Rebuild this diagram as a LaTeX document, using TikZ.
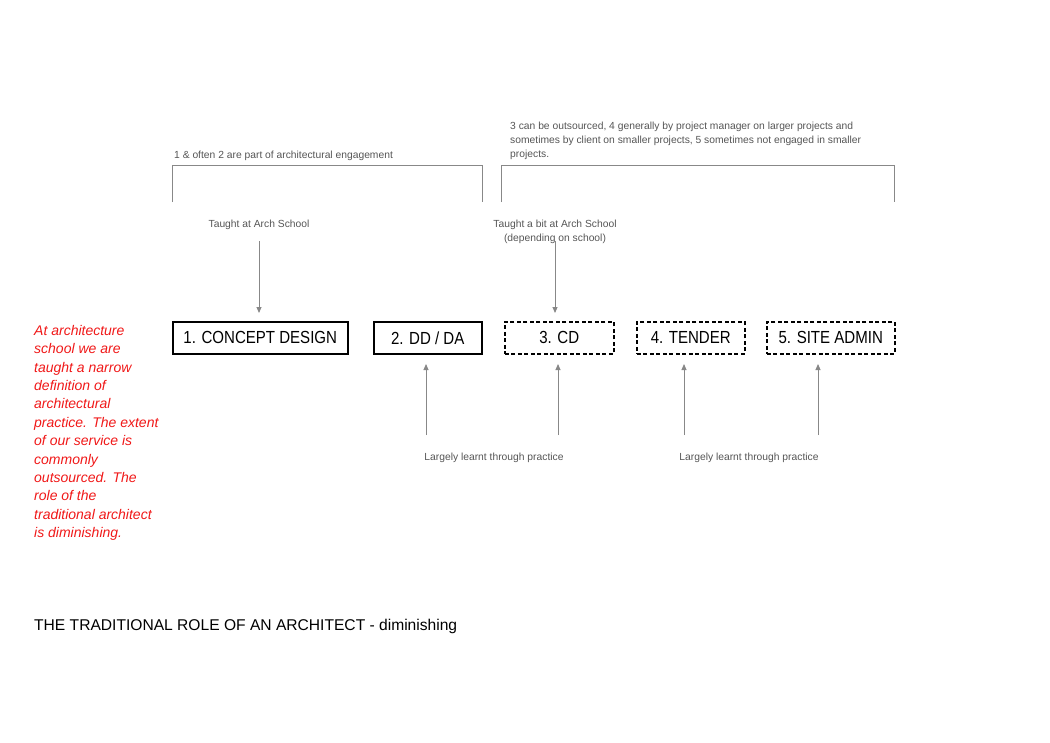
\documentclass[tikz,border=0pt]{standalone}
\usepackage{fontspec}
\setmainfont{Liberation Sans}
\newfontfamily\narrowfont{Liberation Sans}[FakeStretch=0.86]
\usetikzlibrary{arrows.meta}
\definecolor{txtgray}{HTML}{555555}
\definecolor{arrgray}{HTML}{888888}
\definecolor{redtxt}{HTML}{F01818}
\tikzset{
  stage/.style={draw=black, line width=1.5pt, minimum height=32pt, inner sep=0pt, font=\narrowfont\fontsize{17.5}{20}\selectfont, anchor=north west},
  stagedash/.style={stage, dashed, dash pattern=on 4pt off 2.5pt},
  note/.style={font=\fontsize{10.3}{14}\selectfont, text=txtgray, inner sep=0pt},
  brk/.style={draw=arrgray, line width=0.9pt},
  arr/.style={draw=arrgray, line width=0.9pt, -{Triangle[length=6pt,width=5pt]}}
}
\begin{document}
\begin{tikzpicture}[x=1pt,y=-1pt]
\useasboundingbox (0,0) rectangle (1050,742);
% brackets
\coordinate (b1a) at (172,202); \coordinate (b1b) at (172,165);
\coordinate (b1c) at (482,165); \coordinate (b1d) at (482,202);
\draw[brk] (b1a) -- (b1b) -- (b1c) -- (b1d);
\coordinate (b2a) at (501,202); \coordinate (b2b) at (501,165);
\coordinate (b2c) at (894,165); \coordinate (b2d) at (894,202);
\draw[brk] (b2a) -- (b2b) -- (b2c) -- (b2d);
% bracket notes
\node[note, anchor=west] (n1) at (174,155.5) {1 \& often 2 are part of architectural engagement};
\node[note, anchor=north west, align=left] (n2) at (510,122) {3 can be outsourced, 4 generally by project manager on larger projects and\\sometimes by client on smaller projects, 5 sometimes not engaged in smaller\\projects.};
% stages
\node[stage, minimum width=175pt] (s1) at (172,321) {1. CONCEPT DESIGN};
\node[stage, minimum width=108pt] (s2) at (373,321) {2. DD / DA};
\node[stagedash, minimum width=109pt] (s3) at (504,321) {3. CD};
\node[stagedash, minimum width=108pt] (s4) at (636,321) {4. TENDER};
\node[stagedash, minimum width=128pt] (s5) at (766,321) {5. SITE ADMIN};
% taught notes
\node[note] (t1) at (259,224.5) {Taught at Arch School};
\node[note, align=center] (t2) at (555,231.5) {Taught a bit at Arch School\\(depending on school)};
\coordinate (a1s) at (259,241); \coordinate (a1e) at (259,313);
\coordinate (a2s) at (555,241); \coordinate (a2e) at (555,313);
\draw[arr] (a1s) -- (a1e);
\draw[arr] (a2s) -- (a2e);
% practice arrows
\coordinate (p2s) at (426,435); \coordinate (p2e) at (426,364);
\coordinate (p3s) at (558,435); \coordinate (p3e) at (558,364);
\coordinate (p4s) at (684,435); \coordinate (p4e) at (684,364);
\coordinate (p5s) at (818,435); \coordinate (p5e) at (818,364);
\draw[arr] (p2s) -- (p2e);
\draw[arr] (p3s) -- (p3e);
\draw[arr] (p4s) -- (p4e);
\draw[arr] (p5s) -- (p5e);
\node[note] (l1) at (494,457.5) {Largely learnt through practice};
\node[note] (l2) at (749,457.5) {Largely learnt through practice};
% red side text
\node[anchor=north west, align=left, inner sep=0pt, text=redtxt, font=\fontsize{14}{18.4}\selectfont\itshape] (side) at (34,325) {At architecture\\school we are\\taught a narrow\\definition of\\architectural\\practice. The extent\\of our service is\\commonly\\outsourced. The\\role of the\\traditional architect\\is diminishing.};
% title
\node[anchor=west, inner sep=0pt, font=\fontsize{15.6}{18}\selectfont] (title) at (34,626.5) {THE TRADITIONAL ROLE OF AN ARCHITECT - diminishing};
\end{tikzpicture}
\end{document}
